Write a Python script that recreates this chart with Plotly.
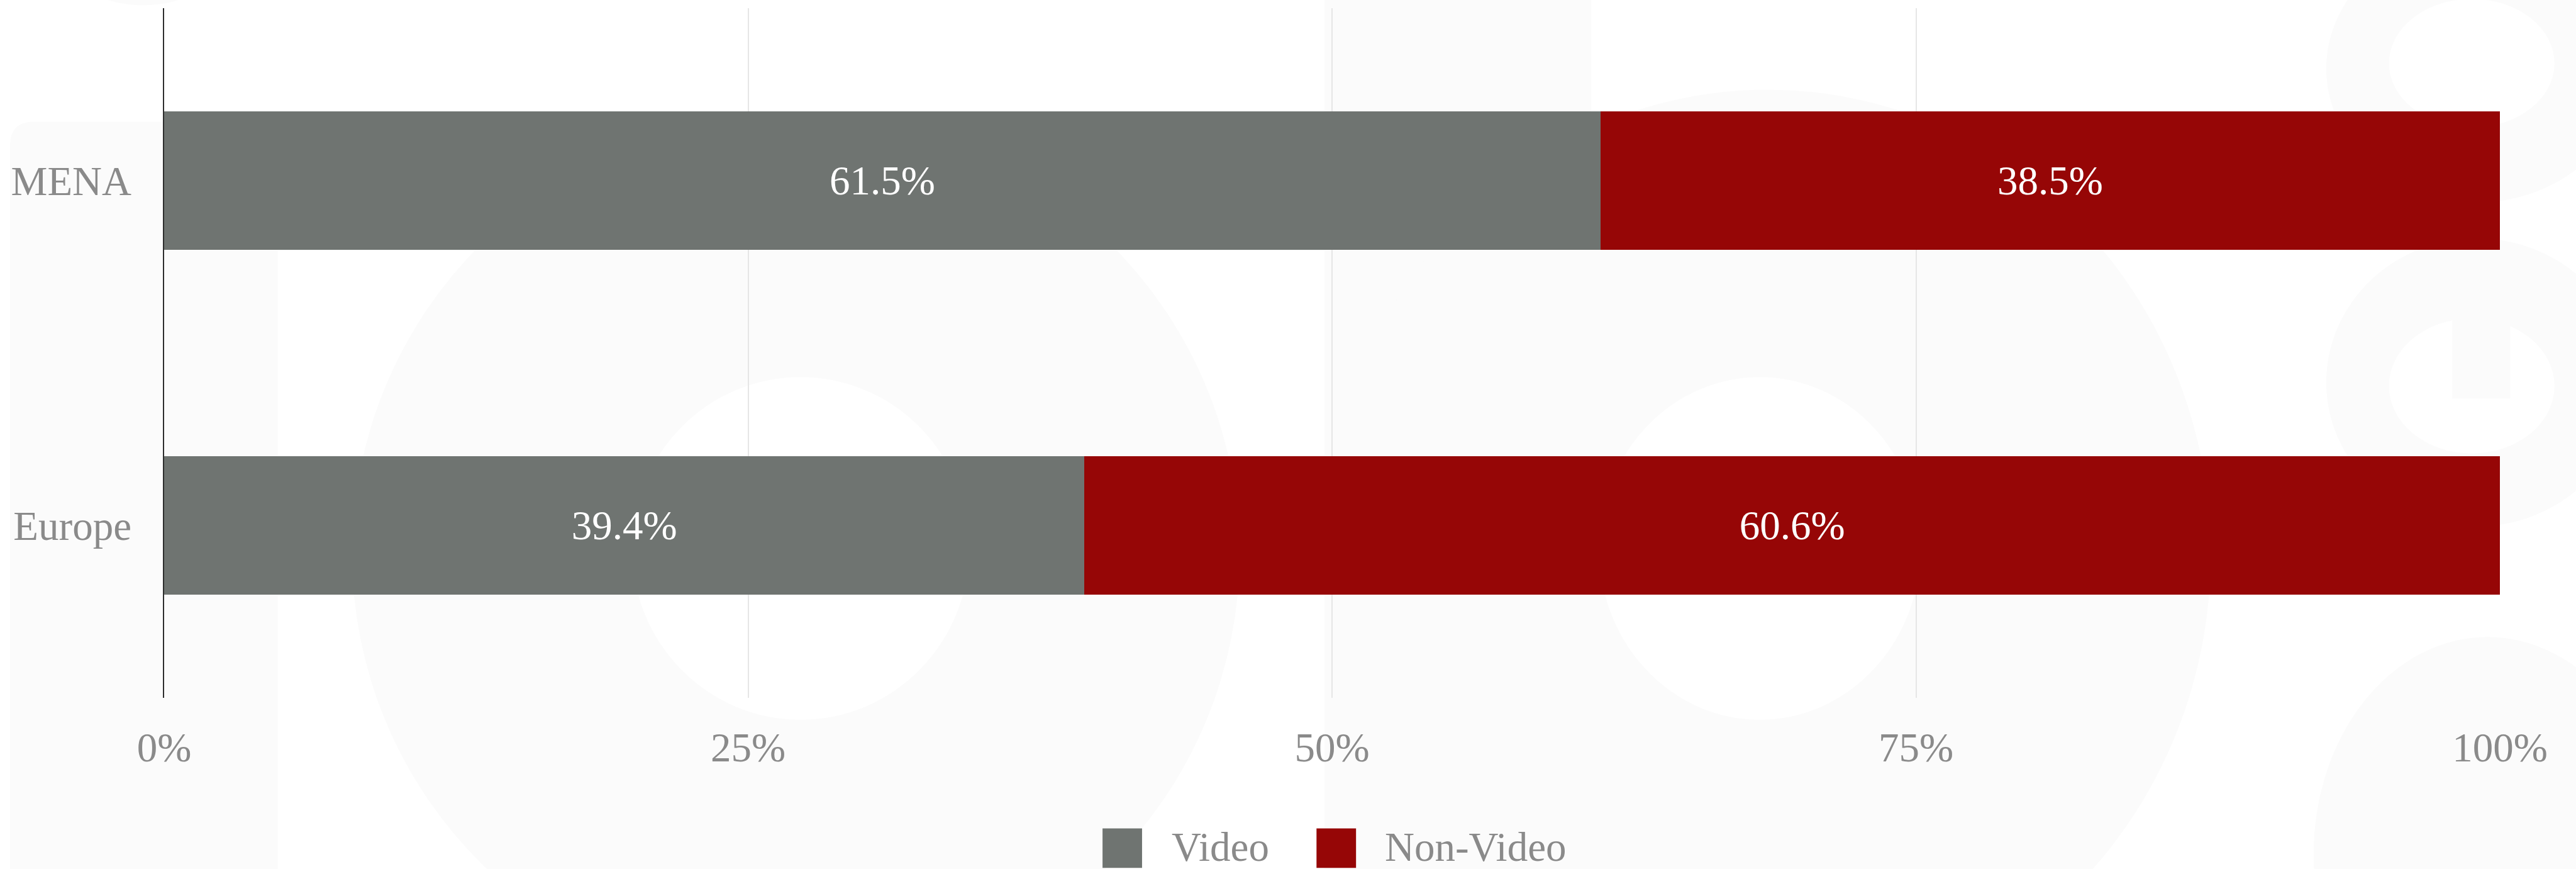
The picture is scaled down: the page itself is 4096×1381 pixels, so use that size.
import plotly.graph_objects as go

# ---- data -------------------------------------------------------------
regions = ["MENA", "Europe"]
video_share = [61.5, 39.4]
non_video_share = [38.5, 60.6]
series_names = ["Video", "Non-Video"]
x_ticks = [0, 25, 50, 75, 100]
x_tick_labels = ["0%", "25%", "50%", "75%", "100%"]

# ---- style ------------------------------------------------------------
SERIES_COLORS = {"Video": "#6f7471", "Non-Video": "#960606"}
FONT = "Liberation Serif, Times New Roman, serif"
LABEL_GREY = "#8a8a8a"
GRID_GREY = "#e6e6e6"
AXIS_DARK = "#2e2e2e"
MARK_FILL = "#fbfbfb"
FONT_SIZE = 65

W, H = 4096, 1381
K = 0.838                      # layout units below are on a 4886 px design grid
ML, MR, MT, MB = 261, 121, 13, 272
PW, PH = W - ML - MR, H - MT - MB


def px(x):
    """design-grid x -> paper fraction"""
    return (x * K - ML) / PW


def py(y):
    """design-grid y (top-down) -> paper fraction"""
    return (H - MB - y * K) / PH


def ellipse(cx, cy, rx, ry, color, layer="below"):
    return dict(type="circle", xref="paper", yref="paper",
                x0=px(cx - rx), x1=px(cx + rx), y0=py(cy + ry), y1=py(cy - ry),
                fillcolor=color, line=dict(width=0), layer=layer)


def rect(x0, y0, x1, y1, color, layer="below"):
    return dict(type="rect", xref="paper", yref="paper",
                x0=px(x0), x1=px(x1), y0=py(y1), y1=py(y0),
                fillcolor=color, line=dict(width=0), layer=layer)


# ---- faint background monogram ------------------------------------------
shapes = []
sx0, sx1, sy0, sy1, r = 19, 527, 231, 1700, 45
shapes.append(dict(
    type="path", xref="paper", yref="paper", layer="below",
    path=(f"M{px(sx0)},{py(sy1)} L{px(sx0)},{py(sy0 + r)} "
          f"Q{px(sx0)},{py(sy0)} {px(sx0 + r)},{py(sy0)} "
          f"L{px(sx1)},{py(sy0)} L{px(sx1)},{py(sy1)} Z"),
    fillcolor=MARK_FILL, line=dict(width=0)))
shapes.append(ellipse(272, -220, 230, 230, MARK_FILL))
# first bowl
shapes.append(ellipse(1510, 1050, 842, 833, MARK_FILL))
shapes.append(ellipse(1519, 1040, 320, 325, "white"))
# stem + second bowl
shapes.append(rect(2513, -50, 3019, 1700, MARK_FILL))
shapes.append(ellipse(3354, 1050, 841, 880, MARK_FILL))
shapes.append(ellipse(3339, 1040, 305, 325, "white"))
# right-hand glyph
shapes.append(ellipse(4700, 130, 286, 254, MARK_FILL))
shapes.append(ellipse(4690, 120, 157, 122, "white"))
shapes.append(ellipse(4700, 725, 286, 273, MARK_FILL))
shapes.append(ellipse(4690, 732, 157, 128, "white"))
shapes.append(rect(4653, 462, 4763, 756, MARK_FILL))
shapes.append(ellipse(4720, 1620, 330, 412, MARK_FILL))

# ---- bars ---------------------------------------------------------------
fig = go.Figure()
for name, values in zip(series_names, [video_share, non_video_share]):
    fig.add_trace(go.Bar(
        name=name, x=values, y=regions, orientation="h",
        marker=dict(color=SERIES_COLORS[name], line=dict(width=0)),
        texttemplate="%{x:.1f}%", textposition="inside",
        insidetextanchor="middle",
        textfont=dict(family=FONT, size=FONT_SIZE, color="white"),
        hoverinfo="skip", showlegend=False))

# ---- legend (large square keys) ----------------------------------------
legend_keys = {"Video": (2092, 2221), "Non-Video": (2498, 2625)}
annotations = []
for name in series_names:
    kx, tx = legend_keys[name]
    shapes.append(rect(kx, 1571, kx + 75, 1646, SERIES_COLORS[name], layer="above"))
    annotations.append(dict(
        xref="paper", yref="paper", x=px(tx), y=py(1606),
        xanchor="left", yanchor="middle", showarrow=False, text=name,
        font=dict(family=FONT, size=FONT_SIZE, color=LABEL_GREY)))

fig.update_layout(
    width=W, height=H,
    margin=dict(l=ML, r=MR, t=MT, b=MB, pad=0),
    barmode="stack", bargap=0.6,
    paper_bgcolor="white", plot_bgcolor="rgba(0,0,0,0)",
    font=dict(family=FONT, size=FONT_SIZE, color=LABEL_GREY),
    showlegend=False,
    shapes=shapes, annotations=annotations,
    xaxis=dict(
        range=[0, 100], tickvals=x_ticks, ticktext=x_tick_labels,
        showgrid=True, gridcolor=GRID_GREY, gridwidth=2,
        zeroline=False, showline=False,
        ticks="outside", ticklen=22, tickcolor="rgba(0,0,0,0)",
        tickfont=dict(family=FONT, size=FONT_SIZE, color=LABEL_GREY),
        fixedrange=True),
    yaxis=dict(
        categoryorder="array", categoryarray=regions[::-1],
        showgrid=False, zeroline=False,
        showline=True, linecolor=AXIS_DARK, linewidth=2,
        ticks="outside", ticklen=37, tickcolor="rgba(0,0,0,0)",
        tickfont=dict(family=FONT, size=FONT_SIZE, color=LABEL_GREY),
        fixedrange=True),
)

fig.write_html("out.html")
